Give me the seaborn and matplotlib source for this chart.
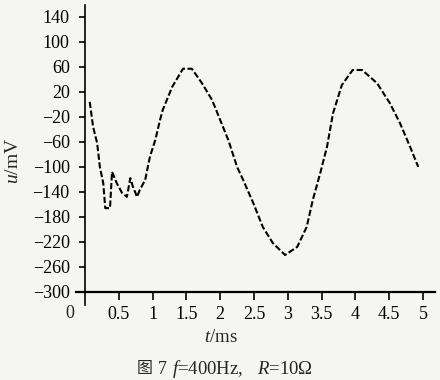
import numpy as np
import pandas as pd
import matplotlib
matplotlib.use("Agg")
import matplotlib.pyplot as plt
import seaborn as sns

# values (t in ms, u in mV)
t_ms = [0.07, 0.12, 0.18, 0.22, 0.27, 0.30, 0.37, 0.40, 0.47, 0.55,
        0.62, 0.67, 0.71, 0.77, 0.81, 0.89, 0.96, 1.04, 1.11, 1.15,
        1.29, 1.45, 1.58, 1.73, 1.88, 2.00, 2.12, 2.25, 2.34, 2.49,
        2.63, 2.78, 2.96, 3.14, 3.28, 3.37, 3.48, 3.58, 3.67, 3.80,
        3.96, 4.10, 4.32, 4.51, 4.66, 4.81, 4.93]
u_mv = [4, -36, -62, -100, -126, -166, -166, -108, -126, -142,
        -148, -118, -132, -148, -137, -121, -84, -57, -25, -9,
        28, 57, 57, 34, 7, -25, -57, -100, -121, -158,
        -196, -222, -241, -228, -196, -153, -110, -68, -14, 31,
        55, 55, 34, 2, -30, -68, -100]

x_ticks = [0.5, 1, 1.5, 2, 2.5, 3, 3.5, 4, 4.5, 5]
x_labels = ["0.5", "1", "1.5", "2", "2.5", "3", "3.5", "4", "4.5", "5"]
y_ticks = [140, 100, 60, 20, -20, -60, -100, -140, -180, -220, -260, -300]

sns.set_style("white")
plt.rcParams["font.family"] = ["Liberation Serif", "Noto Sans CJK SC"]
plt.rcParams["mathtext.fontset"] = "custom"
plt.rcParams["mathtext.rm"] = "Liberation Serif"
plt.rcParams["mathtext.it"] = "Liberation Serif:italic"

bg = "#f5f5f3"
df = pd.DataFrame({"t": t_ms, "u": u_mv})

fig = plt.figure(figsize=(4.4, 3.8), dpi=100, facecolor=bg)
ax = fig.add_axes([76 / 440, 75 / 380, 359 / 440, 300 / 380])
ax.set_facecolor(bg)

sns.lineplot(data=df, x="t", y="u", sort=False, estimator=None,
             color="black", linewidth=1.5, ax=ax)
ax.lines[0].set_dashes([3, 1.2])

ax.set_xlim(-0.133, 5.178)
ax.set_ylim(-321, 159)

# axes cross like in the original drawing
ax.spines["left"].set_position(("data", 0))
ax.spines["bottom"].set_position(("data", -300))
ax.spines["top"].set_visible(False)
ax.spines["right"].set_visible(False)
ax.spines["left"].set_linewidth(1.2)
ax.spines["bottom"].set_linewidth(1.6)
ax.spines["left"].set_color("black")
ax.spines["bottom"].set_color("black")

ax.set_xticks(x_ticks)
ax.set_xticklabels(x_labels)
ax.set_yticks(y_ticks)
ax.tick_params(axis="x", direction="out", length=6, width=1.2, pad=4,
               labelsize=13, bottom=True, colors="black")
ax.tick_params(axis="y", direction="out", length=4, width=1.2, pad=7,
               labelsize=13, left=True, colors="black")
ax.set_xlabel("")
ax.set_ylabel("")

fig.text(70 / 440, 1 - 314 / 380, "0", ha="center", va="center", fontsize=13)
fig.text(14 / 440, 1 - 161 / 380, "$u$/mV", rotation=90, ha="center", va="center", fontsize=14)
fig.text(221 / 440, 1 - 338 / 380, "$t$/ms", ha="center", va="center", fontsize=13.5)

# caption
fig.text(137 / 440, 1 - 369 / 380, "图", ha="left", va="center", fontsize=11.5,
         family=["Noto Sans CJK SC"])
fig.text(158 / 440, 1 - 369 / 380, "7", ha="left", va="center", fontsize=13)
fig.text(172 / 440, 1 - 369 / 380, "$f$=400Hz,", ha="left", va="center", fontsize=13.5)
fig.text(257 / 440, 1 - 369 / 380, "$R$=10Ω", ha="left", va="center", fontsize=13.5)

fig.savefig("out.png", dpi=100, facecolor=bg)
